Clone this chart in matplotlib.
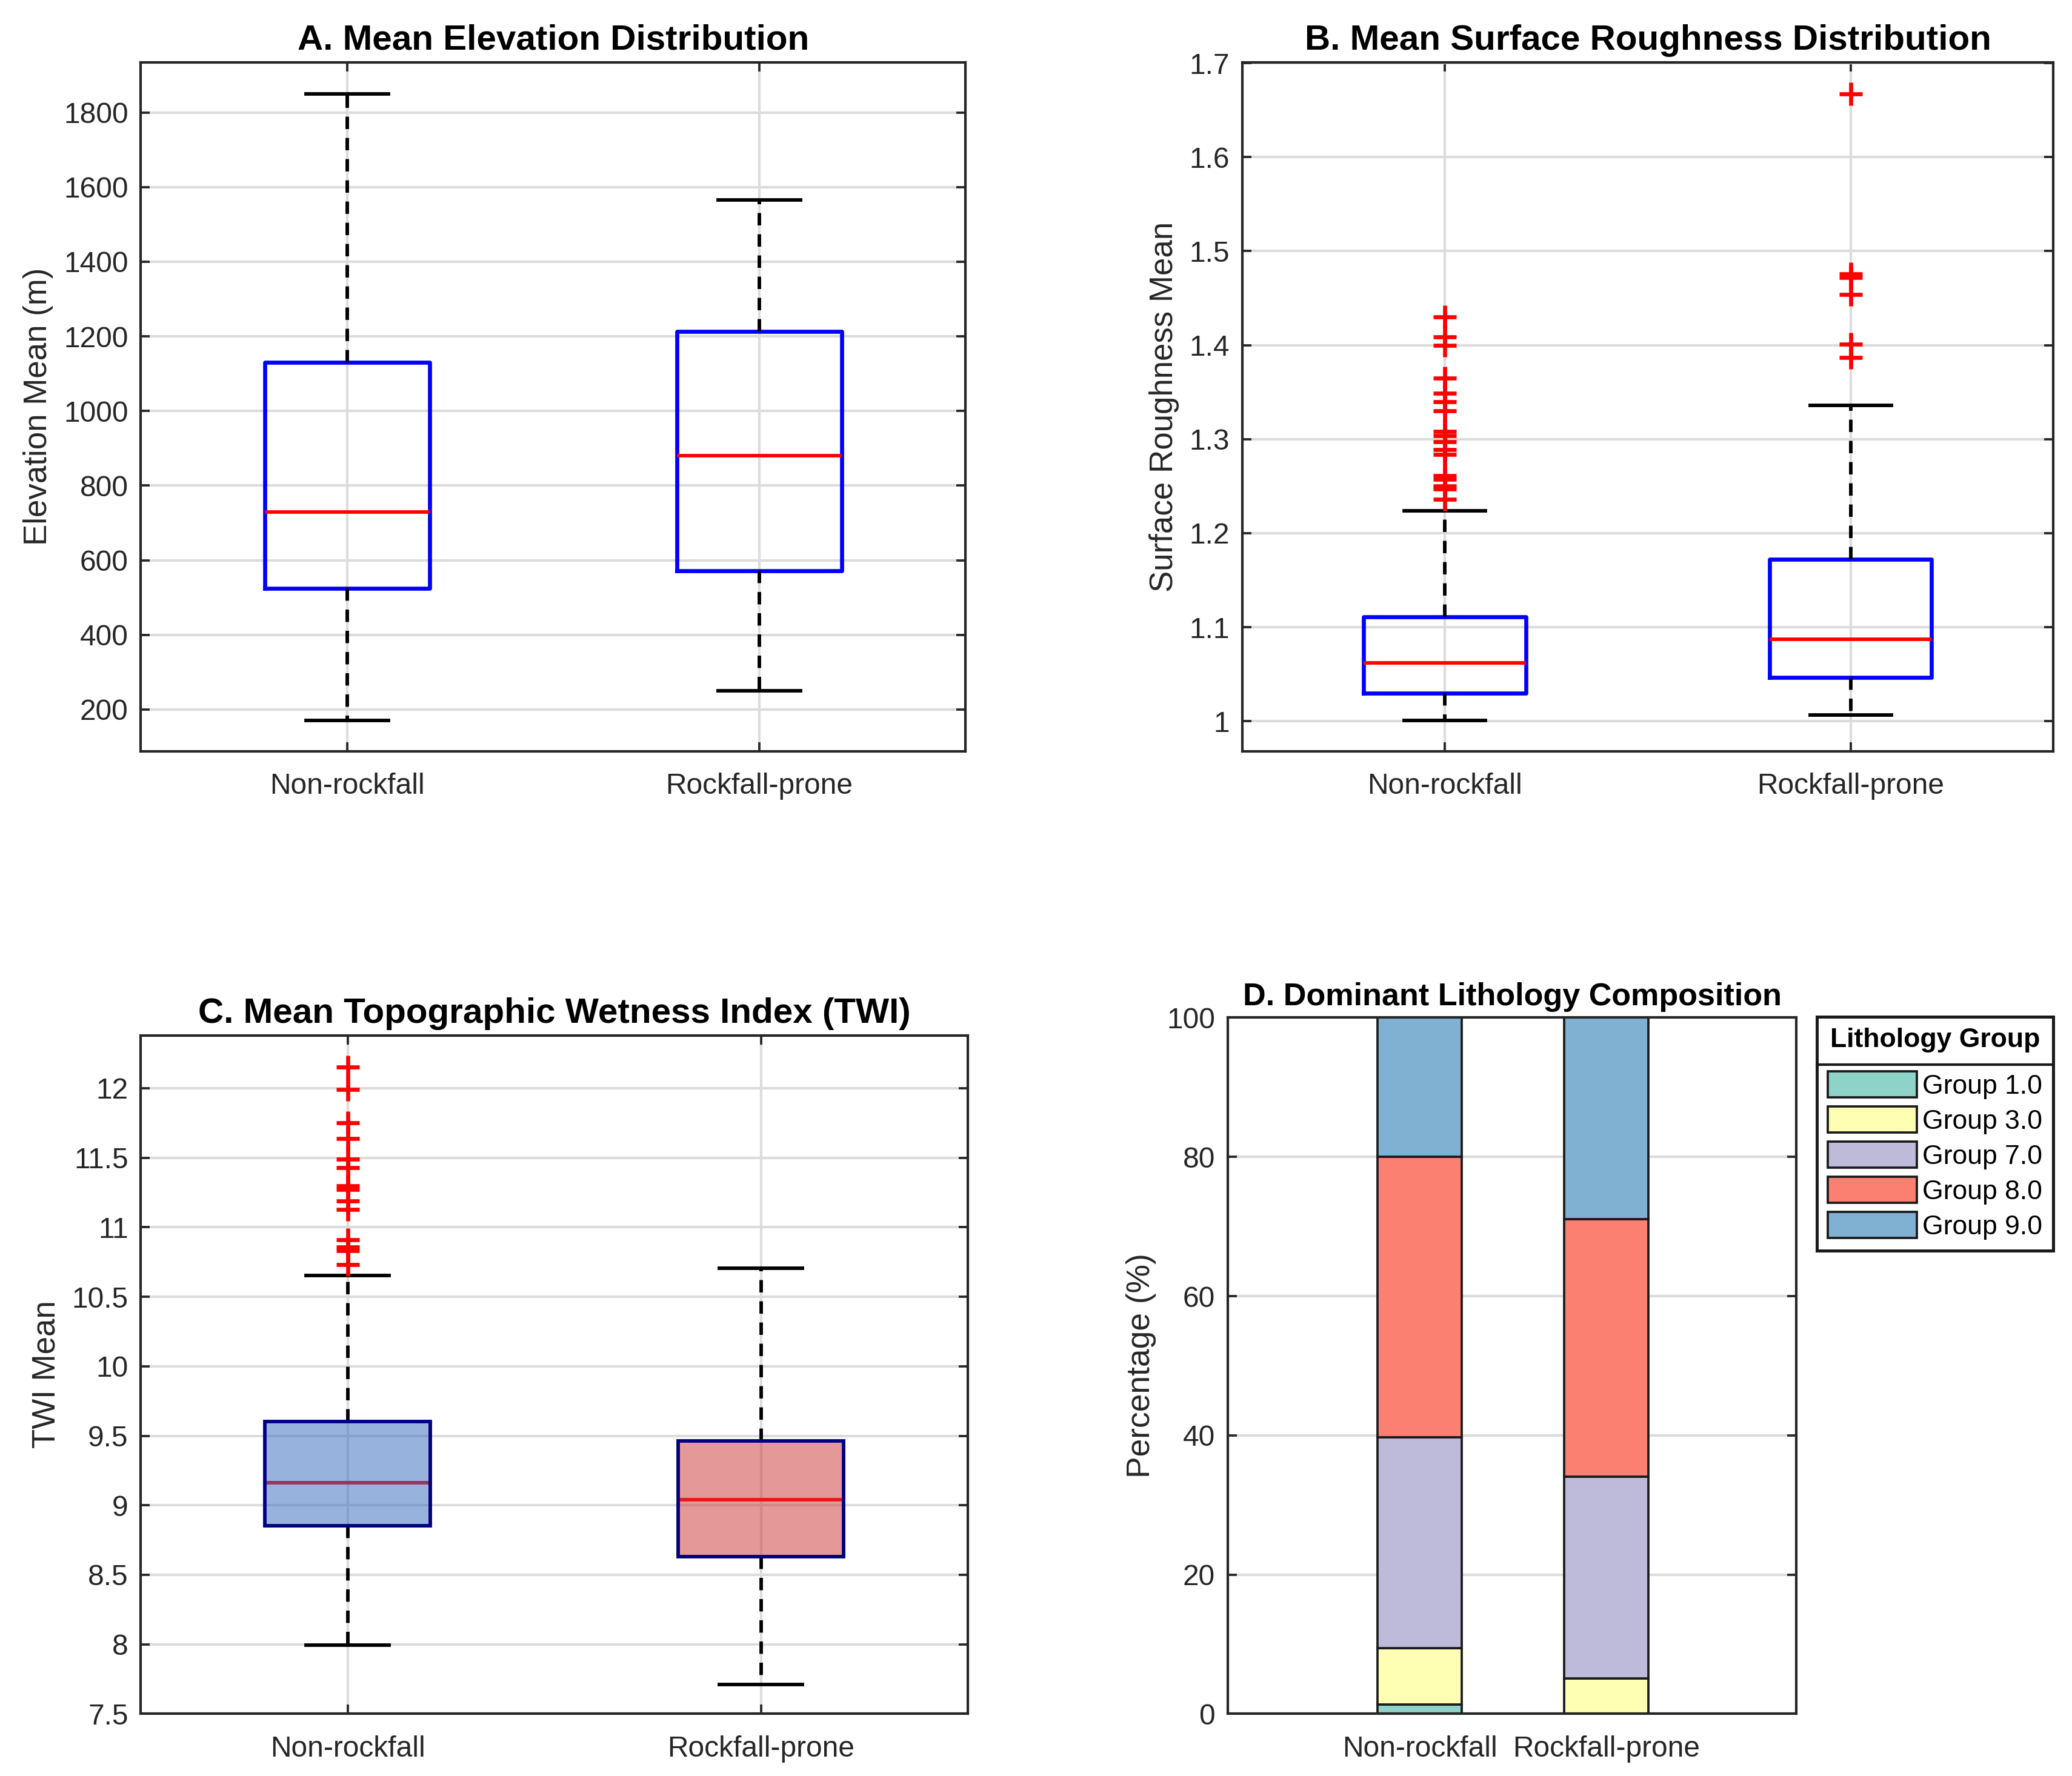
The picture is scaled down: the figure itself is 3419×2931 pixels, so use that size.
import matplotlib
matplotlib.use("Agg")
import matplotlib.pyplot as plt
from matplotlib.lines import Line2D
from matplotlib.patches import Patch

plt.rcParams['font.family'] = ['Liberation Sans', 'DejaVu Sans']

categories = ["Non-rockfall", "Rockfall-prone"]

# Panel A: elevation stats (whislo, q1, med, q3, whishi)
elev_nr = [170, 525, 730, 1130, 1850]
elev_rp = [250, 572, 880, 1213, 1565]
elev_fliers_nr = []
elev_fliers_rp = []

# Panel B: surface roughness
rough_nr = [1.001, 1.030, 1.062, 1.111, 1.224]
rough_rp = [1.0065, 1.0465, 1.087, 1.172, 1.336]
rough_fliers_nr = [1.430, 1.409, 1.400, 1.365, 1.349, 1.340, 1.330, 1.308, 1.304,
                   1.297, 1.289, 1.284, 1.261, 1.257, 1.250, 1.247, 1.236]
rough_fliers_rp = [1.667, 1.476, 1.472, 1.454, 1.401, 1.387]

# Panel C: TWI
twi_nr = [7.993, 8.853, 9.161, 9.604, 10.653]
twi_rp = [7.712, 8.631, 9.039, 9.463, 10.705]
twi_fliers_nr = [12.153, 11.99, 11.75, 11.64, 11.49, 11.43, 11.30, 11.27, 11.19,
                 11.13, 10.91, 10.86, 10.83, 10.73]
twi_fliers_rp = []

# Panel D: lithology composition (%)
litho_groups = ["Group 1.0", "Group 3.0", "Group 7.0", "Group 8.0", "Group 9.0"]
litho_nr = [1.35, 8.1, 30.3, 40.25, 20.0]
litho_rp = [0.0, 5.05, 29.0, 37.05, 28.9]
litho_colors = ["#8dd3c7", "#ffffb3", "#bebada", "#fb8072", "#80b1d3"]

TXT = "#262626"
GRID = "#dcdcdc"

fig = plt.figure(figsize=(3419/300, 2931/300), dpi=300)

def make_stats(vals, fliers, label):
    lo, q1, med, q3, hi = vals
    return dict(whislo=lo, q1=q1, med=med, q3=q3, whishi=hi, fliers=fliers, label=label)

def style_axes(ax):
    for s in ax.spines.values():
        s.set_color(TXT)
        s.set_linewidth(1.0)
    ax.tick_params(direction='in', top=True, right=True, length=3.5, width=0.9,
                   colors=TXT, labelsize=11.5)
    ax.tick_params(axis='x', pad=8.5)
    ax.tick_params(axis='y', pad=5)
    ax.grid(True, color=GRID, lw=1.0)
    ax.set_axisbelow(True)

def simple_box(ax, s1, s2, title, ylabel, ylim, yticks, yticklabels=None):
    stats = [make_stats(*s1, categories[0]), make_stats(*s2, categories[1])]
    ax.bxp(stats, positions=[1, 2], widths=0.4, showfliers=True,
           boxprops=dict(color='#0000ff', lw=1.6),
           whiskerprops=dict(color='black', lw=1.4, linestyle=(0, (3.5, 2.5))),
           capprops=dict(color='black', lw=1.4),
           medianprops=dict(color='#ff0000', lw=1.4),
           flierprops=dict(marker='+', markeredgecolor='#ff0000', markersize=9, mew=1.6,
                           linestyle='none'),
           capwidths=0.2)
    ax.set_xlim(0.5, 2.5)
    ax.set_ylim(*ylim)
    ax.set_yticks(yticks)
    if yticklabels is not None:
        ax.set_yticklabels(yticklabels)
    ax.set_xticks([1, 2])
    ax.set_xticklabels(categories)
    ax.set_title(title, fontsize=14, fontweight='bold', pad=5, color='black')
    ax.set_ylabel(ylabel, fontsize=12.7, color=TXT)
    style_axes(ax)

# A
axA = fig.add_axes([0.068, 0.577, 0.398, 0.388])
simple_box(axA, (elev_nr, elev_fliers_nr), (elev_rp, elev_fliers_rp),
           "A. Mean Elevation Distribution", "Elevation Mean (m)",
           (88, 1935), list(range(200, 1801, 200)))

# B
axB = fig.add_axes([0.5995, 0.577, 0.3915, 0.388])
simple_box(axB, (rough_nr, rough_fliers_nr), (rough_rp, rough_fliers_rp),
           "B. Mean Surface Roughness Distribution", "Surface Roughness Mean",
           (0.968, 1.701), [1.0, 1.1, 1.2, 1.3, 1.4, 1.5, 1.6, 1.7],
           ["1", "1.1", "1.2", "1.3", "1.4", "1.5", "1.6", "1.7"])

# C
axC = fig.add_axes([0.068, 0.035, 0.399, 0.382])
statsC = [make_stats(twi_nr, twi_fliers_nr, categories[0]),
          make_stats(twi_rp, twi_fliers_rp, categories[1])]
bp = axC.bxp(statsC, positions=[1, 2], widths=0.4, patch_artist=True,
             boxprops=dict(edgecolor='#000080', lw=1.4),
             whiskerprops=dict(color='black', lw=1.4, linestyle=(0, (3.5, 2.5))),
             capprops=dict(color='black', lw=1.4),
             medianprops=dict(color='#ff0000', lw=1.4),
             flierprops=dict(marker='+', markeredgecolor='#ff0000', markersize=9, mew=1.6,
                             linestyle='none'),
             capwidths=0.2)
fills = [(0.2, 0.4, 0.75, 0.5), (0.8, 0.2, 0.2, 0.5)]
for patch, fc in zip(bp['boxes'], fills):
    patch.set_facecolor(fc)
    patch.set_zorder(3)
for m in bp['medians']:
    m.set_zorder(2.5)
axC.set_xlim(0.5, 2.5)
axC.set_ylim(7.5, 12.38)
axC.set_yticks([7.5, 8, 8.5, 9, 9.5, 10, 10.5, 11, 11.5, 12])
axC.set_yticklabels(["7.5", "8", "8.5", "9", "9.5", "10", "10.5", "11", "11.5", "12"])
axC.set_xticks([1, 2])
axC.set_xticklabels(categories)
axC.set_title("C. Mean Topographic Wetness Index (TWI)", fontsize=14, fontweight='bold',
              pad=5, color='black')
axC.set_ylabel("TWI Mean", fontsize=12.7, color=TXT)
style_axes(axC)

# D
axD = fig.add_axes([0.5925, 0.035, 0.2745, 0.392])
xpos = [1, 2]
bottoms = [0.0, 0.0]
handles = []
for i, g in enumerate(litho_groups):
    vals = [litho_nr[i], litho_rp[i]]
    axD.bar(xpos, vals, width=0.45, bottom=bottoms, color=litho_colors[i],
            edgecolor='#1a1a1a', lw=0.9, zorder=2)
    bottoms = [bottoms[0] + vals[0], bottoms[1] + vals[1]]
    handles.append(Patch(facecolor=litho_colors[i], edgecolor='#1a1a1a', lw=0.9, label=g))
axD.set_xlim(-0.03, 3.02)
axD.set_ylim(0, 100)
axD.set_yticks([0, 20, 40, 60, 80, 100])
axD.set_xticks(xpos)
axD.set_xticklabels(categories)
axD.set_title("D. Dominant Lithology Composition", fontsize=12.5, fontweight='bold',
              pad=5, color='black')
axD.set_ylabel("Percentage (%)", fontsize=12.8, color=TXT)
style_axes(axD)
axD.grid(False, axis='x')

leg = fig.legend(handles=handles, loc='upper left', bbox_to_anchor=(0.877, 0.4275),
                 borderaxespad=0.0,
                 fontsize=10.7, title="Lithology Group",
                 title_fontproperties=dict(weight='bold', size=10.7),
                 handlelength=3.3, handleheight=1.1, labelspacing=0.28,
                 fancybox=False, edgecolor='#1a1a1a', framealpha=1, borderpad=0.4,
                 handletextpad=0.2)
leg.get_frame().set_linewidth(1.2)
leg._legend_box.sep = 7.5

fig.canvas.draw()
rend = fig.canvas.get_renderer()
fb = leg.get_frame().get_window_extent(rend)
tb = leg.get_title().get_window_extent(rend)
ysep = tb.y0 - 20
inv = fig.transFigure.inverted()
(x0, y0), (x1, _) = inv.transform([(fb.x0, ysep), (fb.x1, ysep)])
fig.add_artist(Line2D([x0, x1], [y0, y0], transform=fig.transFigure, color='#1a1a1a',
                      lw=1.0, zorder=10))

fig.savefig("out.png", dpi=300)
